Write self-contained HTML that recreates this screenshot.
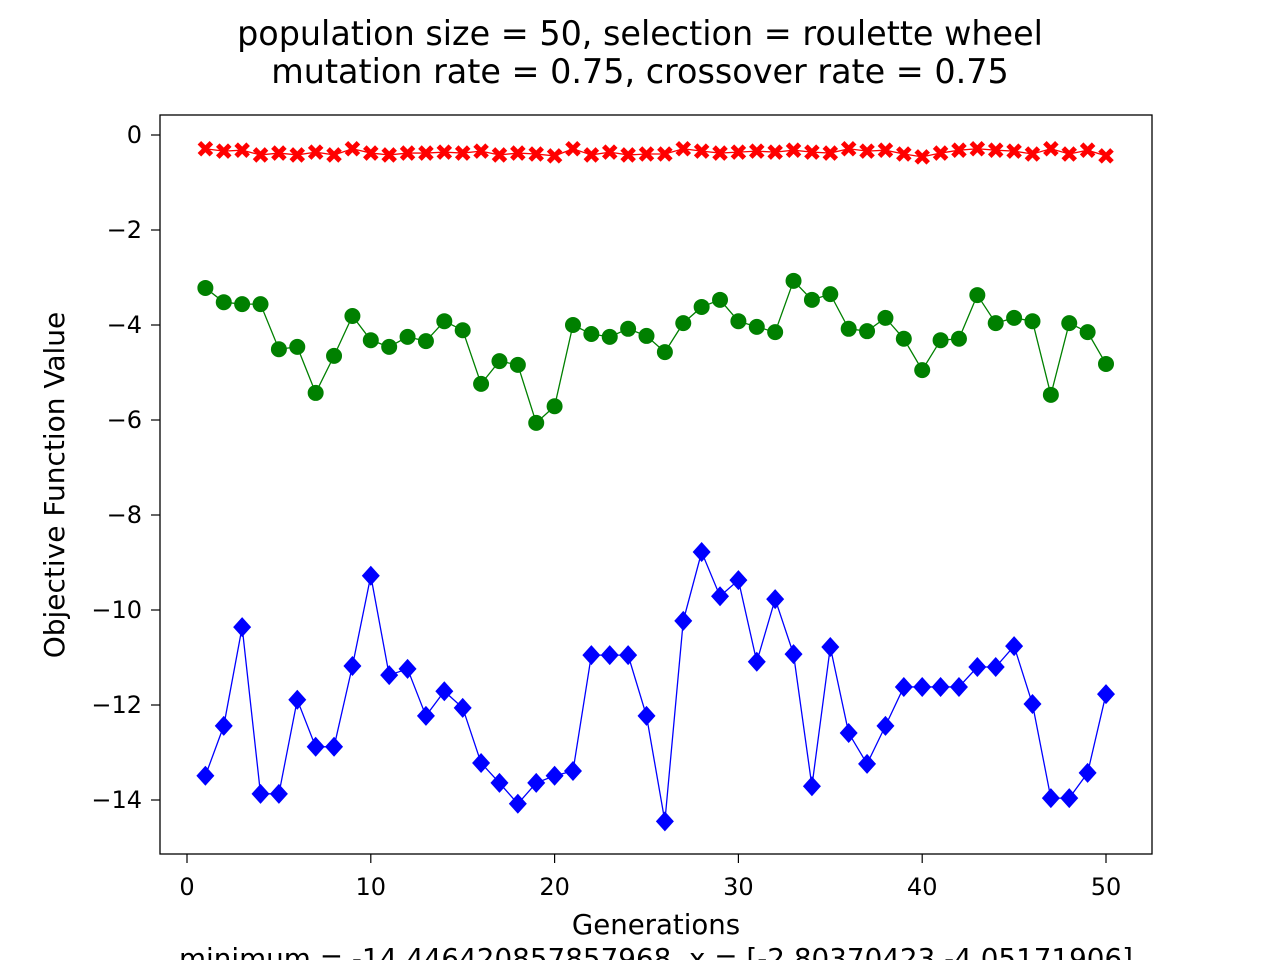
<!DOCTYPE html>
<html><head><meta charset="utf-8"><style>
body{margin:0;background:#fff;width:1280px;height:960px;overflow:hidden;font-family:"Liberation Sans","DejaVu Sans",sans-serif}
text{font-family:"DejaVu Sans","Liberation Sans",sans-serif}
</style></head><body>
<svg id="chart" width="1280" height="960">
<text x="640" y="45" font-size="33.4" text-anchor="middle">population size = 50, selection = roulette wheel</text>
<text x="640" y="83" font-size="33.4" text-anchor="middle">mutation rate = 0.75, crossover rate = 0.75</text>
<rect x="160" y="115" width="992" height="739" fill="none" stroke="#000" stroke-width="1.3"/>
<g id="xt"></g>
<g id="yt"></g>
<g id="series"></g>
<text x="656" y="934" font-size="27.6" text-anchor="middle">Generations</text>
<text x="656" y="968" font-size="27.8" text-anchor="middle">minimum = -14.446420857857968, x = [-2.80370423 -4.05171906]</text>
<text transform="translate(64,485) rotate(-90)" font-size="28" text-anchor="middle">Objective Function Value</text>
</svg>
<script>
const xTicks=[0,10,20,30,40,50];
const yTicks=[0,-2,-4,-6,-8,-10,-12,-14];
const generations=Array.from({length:50},(_,i)=>i+1);
const bestValues=[-13.49,-12.44,-10.36,-13.87,-13.87,-11.89,-12.88,-12.88,-11.18,-9.28,-11.37,-11.24,-12.23,-11.71,-12.06,-13.22,-13.64,-14.08,-13.64,-13.49,-13.39,-10.95,-10.95,-10.95,-12.23,-14.45,-10.23,-8.78,-9.71,-9.37,-11.09,-9.77,-10.93,-13.71,-10.78,-12.59,-13.24,-12.44,-11.62,-11.62,-11.62,-11.62,-11.2,-11.2,-10.76,-11.98,-13.96,-13.96,-13.43,-11.77];
const meanValues=[-3.22,-3.52,-3.56,-3.56,-4.51,-4.46,-5.43,-4.65,-3.81,-4.32,-4.46,-4.25,-4.34,-3.92,-4.11,-5.24,-4.76,-4.84,-6.06,-5.71,-4.0,-4.19,-4.25,-4.08,-4.23,-4.57,-3.96,-3.62,-3.47,-3.92,-4.04,-4.15,-3.07,-3.47,-3.35,-4.08,-4.13,-3.85,-4.29,-4.95,-4.32,-4.29,-3.37,-3.96,-3.85,-3.92,-5.47,-3.96,-4.15,-4.82];
const worstValues=[-0.29,-0.34,-0.32,-0.42,-0.38,-0.42,-0.36,-0.42,-0.29,-0.38,-0.42,-0.38,-0.38,-0.36,-0.38,-0.34,-0.42,-0.38,-0.4,-0.44,-0.29,-0.42,-0.36,-0.42,-0.4,-0.4,-0.29,-0.34,-0.38,-0.36,-0.34,-0.36,-0.32,-0.36,-0.38,-0.29,-0.34,-0.32,-0.4,-0.46,-0.38,-0.32,-0.29,-0.32,-0.34,-0.4,-0.29,-0.4,-0.32,-0.44];
const NS="http://www.w3.org/2000/svg";
const X=v=>187+v*(1106-187)/50;
const Y=v=>135-v*(800-135)/14;
function mk(tag,parent,attrs){const e=document.createElementNS(NS,tag);for(const k in attrs)e.setAttribute(k,attrs[k]);parent.appendChild(e);return e;}
const xt=document.getElementById('xt'),yt=document.getElementById('yt'),sg=document.getElementById('series');
xTicks.forEach(t=>{const l=mk('line',xt,{x1:X(t),x2:X(t),y1:854,y2:863,stroke:'#000','stroke-width':1.2});


const tx=mk('text',xt,{x:X(t),y:895,'font-size':24,'text-anchor':'middle'});tx.textContent=t;

});
yTicks.forEach(t=>{const l=mk('line',yt,{x1:151,x2:160,y1:Y(t),y2:Y(t),stroke:'#000','stroke-width':1.2});


const tx=mk('text',yt,{x:142,y:Y(t)+8,'font-size':24,'text-anchor':'end'});tx.textContent=t<0?'\u2212'+(-t):t;

});
function series(vals,color,marker,name){
 const g=mk('g',sg,{});
 
 
 const p=mk('polyline',g,{points:vals.map((v,i)=>X(generations[i])+','+Y(v)).join(' '),fill:'none',stroke:color,'stroke-width':1.3});
 
 
 vals.forEach((v,i)=>{const x=X(generations[i]),y=Y(v);let m;
  if(marker==='o')m=mk('circle',g,{cx:x,cy:y,r:8,fill:color});
  else if(marker==='D')m=mk('polygon',g,{points:`${x},${y-10} ${x+9},${y} ${x},${y+10} ${x-9},${y}`,fill:color});
  else m=mk('path',g,{d:`M${x-6},${y-6}L${x+6},${y+6}M${x+6},${y-6}L${x-6},${y+6}`,stroke:color,'stroke-width':5});
  
  });
}
series(worstValues,'#ff0000','x','worst-series');
series(meanValues,'#008000','o','mean-series');
series(bestValues,'#0000ff','D','best-series');
</script>
</body></html>
